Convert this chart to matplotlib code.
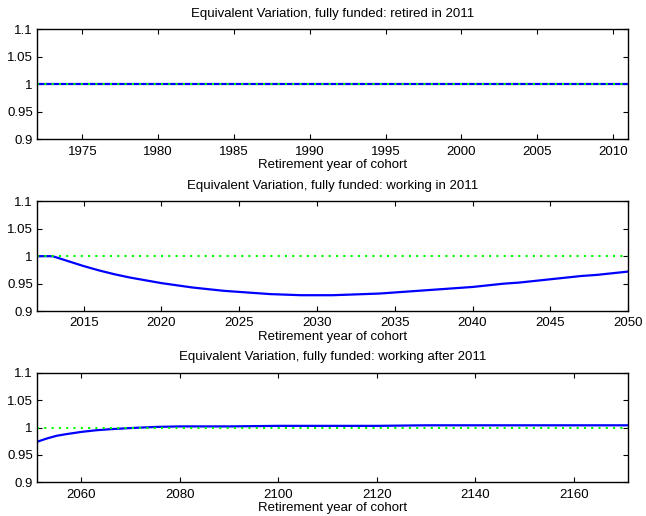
# Variacion equivalente por cohorte de retiro, sistema totalmente fondeado

import numpy as np
import matplotlib.pyplot as plt
from matplotlib.ticker import FuncFormatter

plt.rcParams['font.family'] = ['Liberation Sans', 'DejaVu Sans']

# Retirados en 2011
anios_ret = list(range(1972, 2012))
ev_ret = [1.0] * len(anios_ret)

# Trabajando en 2011
anios_trab = list(range(2012, 2051))
ev_trab = [1.000, 1.000, 0.991, 0.982, 0.974, 0.967, 0.961, 0.956, 0.951, 0.947,
           0.943, 0.940, 0.937, 0.935, 0.933, 0.931, 0.930, 0.929, 0.929, 0.929,
           0.930, 0.931, 0.932, 0.934, 0.936, 0.938, 0.940, 0.942, 0.944, 0.947,
           0.950, 0.952, 0.955, 0.958, 0.961, 0.964, 0.966, 0.969, 0.972]

# Trabajando despues de 2011
anios_fut = [2051, 2053, 2055, 2057, 2060, 2063, 2066, 2070, 2075, 2080,
             2090, 2100, 2110, 2120, 2130, 2140, 2150, 2160, 2171]
ev_fut = [0.974, 0.980, 0.985, 0.988, 0.992, 0.995, 0.997, 0.999, 1.001, 1.002,
          1.002, 1.003, 1.003, 1.003, 1.004, 1.004, 1.004, 1.004, 1.004]

paneles = [
    ('Equivalent Variation, fully funded: retired in 2011', anios_ret, ev_ret, 5),
    ('Equivalent Variation, fully funded: working in 2011', anios_trab, ev_trab, 5),
    ('Equivalent Variation, fully funded: working after 2011', anios_fut, ev_fut, 20),
]

fig = plt.figure(figsize=(6.46, 5.16), dpi=100)
bottoms = [0.730, 0.397, 0.065]
fs = 9.5

def fmt_y(v, pos):
    return '%g' % round(v, 2)

for (titulo, x, y, paso), b in zip(paneles, bottoms):
    ax = fig.add_axes([0.0573, b, 0.915, 0.213])
    ax.plot(x, y, color=(0, 0, 1), lw=1.6)
    ax.plot([x[0], x[-1]], [1, 1], color=(0, 1, 0), lw=1.5, ls=(0, (1, 2.5)))
    ax.set_xlim(x[0], x[-1])
    ax.set_ylim(0.9, 1.1)
    primer = int(np.ceil(x[0] / paso) * paso)
    ax.set_xticks(np.arange(primer, x[-1] + 1, paso))
    ax.set_yticks([0.9, 0.95, 1.0, 1.05, 1.1])
    ax.yaxis.set_major_formatter(FuncFormatter(fmt_y))
    ax.tick_params(direction='in', length=3.5, width=0.8, top=True, right=True,
                   labelsize=fs, pad=3)
    ax.tick_params(axis='x', pad=4.5)
    for s in ax.spines.values():
        s.set_linewidth(1.0)
    ax.set_title(titulo, fontsize=fs, pad=9)
    ax.set_xlabel('Retirement year of cohort', fontsize=fs, labelpad=1)

fig.savefig('out.png', dpi=100)
